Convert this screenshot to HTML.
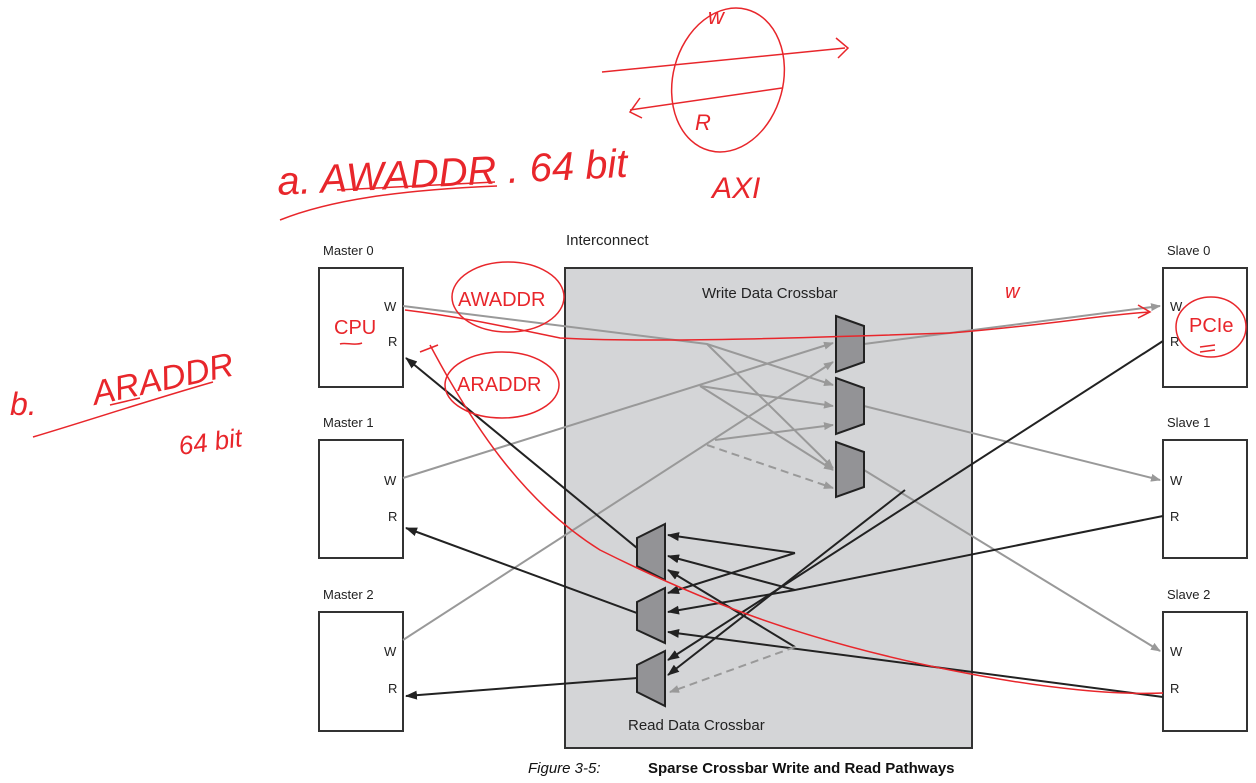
<!DOCTYPE html>
<html><head><meta charset="utf-8"><style>
html,body{margin:0;padding:0;background:#fff;}
svg{display:block;}
</style></head><body>
<svg width="1256" height="783" viewBox="0 0 1256 783" xmlns="http://www.w3.org/2000/svg" font-family="Liberation Sans, sans-serif">
<defs>
<marker id="ag" markerWidth="10" markerHeight="8" refX="9" refY="4" orient="auto" markerUnits="userSpaceOnUse"><path d="M0,0 L10,4 L0,8 Z" fill="#999"/></marker>
<marker id="ab" markerWidth="12" markerHeight="9" refX="11" refY="4.5" orient="auto" markerUnits="userSpaceOnUse"><path d="M0,0 L12,4.5 L0,9 Z" fill="#222"/></marker>
</defs>
<!-- interconnect -->
<rect x="565" y="268" width="407" height="480" fill="#d4d5d7" stroke="#333" stroke-width="2"/>
<text x="566" y="245" font-size="15" fill="#222">Interconnect</text>
<text x="702" y="298" font-size="15" fill="#222">Write Data Crossbar</text>
<text x="628" y="730" font-size="15" fill="#222">Read Data Crossbar</text>
<!-- masters/slaves -->
<g fill="#fff" stroke="#333" stroke-width="2">
<rect x="319" y="268" width="84" height="119"/><rect x="319" y="440" width="84" height="118"/><rect x="319" y="612" width="84" height="119"/>
<rect x="1163" y="268" width="84" height="119"/><rect x="1163" y="440" width="84" height="118"/><rect x="1163" y="612" width="84" height="119"/>
</g>
<g font-size="13" fill="#222">
<text x="323" y="255">Master 0</text><text x="323" y="427">Master 1</text><text x="323" y="599">Master 2</text>
<text x="1167" y="255">Slave 0</text><text x="1167" y="427">Slave 1</text><text x="1167" y="599">Slave 2</text>
<text x="384" y="311">W</text><text x="388" y="346">R</text>
<text x="384" y="485">W</text><text x="388" y="521">R</text>
<text x="384" y="656">W</text><text x="388" y="693">R</text>
<text x="1170" y="311">W</text><text x="1170" y="346">R</text>
<text x="1170" y="485">W</text><text x="1170" y="521">R</text>
<text x="1170" y="656">W</text><text x="1170" y="693">R</text>
</g>
<!-- write lines -->
<g stroke="#999" stroke-width="2" fill="none">
<path d="M403,306 L707,344 L833,385" marker-end="url(#ag)"/>
<path d="M707,344 L833,468" marker-end="url(#ag)"/>
<path d="M403,478 L833,343" marker-end="url(#ag)"/>
<path d="M700,386 L833,406" marker-end="url(#ag)"/>
<path d="M700,386 L833,470" marker-end="url(#ag)"/>
<path d="M403,640 L833,362" marker-end="url(#ag)"/>
<path d="M715,440 L833,425" marker-end="url(#ag)"/>
<path d="M707,445 L833,488" stroke-dasharray="8,5" marker-end="url(#ag)"/>
<path d="M864,344 L1160,306" marker-end="url(#ag)"/>
<path d="M864,406 L1160,480" marker-end="url(#ag)"/>
<path d="M864,470 L1160,651" marker-end="url(#ag)"/>
</g>
<!-- read lines -->
<g stroke="#222" stroke-width="2" fill="none">
<path d="M1163,341 L668,660" marker-end="url(#ab)"/>
<path d="M905,490 L668,675" marker-end="url(#ab)"/>
<path d="M795,553 L668,535" marker-end="url(#ab)"/>
<path d="M795,553 L668,593" marker-end="url(#ab)"/>
<path d="M1163,516 L795,590 L668,556" marker-end="url(#ab)"/>
<path d="M795,590 L668,612" marker-end="url(#ab)"/>
<path d="M1163,697 L668,632" marker-end="url(#ab)"/>
<path d="M795,647 L668,570" marker-end="url(#ab)"/>
<path d="M637,548 L406,358" marker-end="url(#ab)"/>
<path d="M637,613 L406,528" marker-end="url(#ab)"/>
<path d="M637,678 L406,696" marker-end="url(#ab)"/>
</g>
<path d="M795,647 L670,692" stroke="#999" stroke-width="2" stroke-dasharray="8,5" fill="none" marker-end="url(#ag)"/>
<!-- muxes -->
<g fill="#939396" stroke="#222" stroke-width="2">
<path d="M836,316 L864,326 L864,362 L836,372 Z"/>
<path d="M836,378 L864,388 L864,424 L836,434 Z"/>
<path d="M836,442 L864,452 L864,487 L836,497 Z"/>
<path d="M665,524 L637,538 L637,566 L665,580 Z"/>
<path d="M665,588 L637,602 L637,630 L665,643 Z"/>
<path d="M665,651 L637,665 L637,692 L665,706 Z"/>
</g>
<!-- red annotations -->
<g stroke="#e8262b" stroke-width="1.5" fill="none">
<ellipse cx="728" cy="80" rx="55" ry="73" transform="rotate(15 728 80)"/>
<path d="M602,72 L845,48 M836,38 L848,48 L838,58"/>
<path d="M630,110 L782,88 M640,98 L630,112 L642,118"/>
<path d="M337,190 L495,182 M280,220 C330,200 400,190 497,186"/>
<path d="M33,437 C90,420 150,400 213,382 M110,405 L140,398"/>
<ellipse cx="508" cy="297" rx="56" ry="35"/>
<ellipse cx="502" cy="385" rx="57" ry="33"/>
<ellipse cx="1211" cy="327" rx="35" ry="30"/>
<path d="M405,310 C470,318 520,330 560,338 C650,343 800,338 950,333 C1050,325 1100,315 1150,312 M1138,305 L1150,312 L1138,318"/>
<path d="M430,345 C470,420 520,500 600,550 C700,600 800,640 950,670 C1050,690 1120,695 1163,693"/>
<path d="M420,352 L438,345"/>
<path d="M340,344 C345,342 355,346 362,343"/>
<path d="M1200,347 L1215,345 M1200,352 L1215,350"/>
</g>
<g fill="#e8262b" font-family="Liberation Sans, sans-serif">
<text x="278" y="195" font-size="40" font-style="italic" transform="rotate(-3 278 195)">a.  AWADDR . 64 bit</text>
<text x="712" y="198" font-size="30" font-style="italic">AXI</text>
<text x="708" y="24" font-size="22" font-style="italic">w</text>
<text x="695" y="130" font-size="22" font-style="italic">R</text>
<text x="10" y="415" font-size="32" font-style="italic">b.</text>
<text x="95" y="405" font-size="34" font-style="italic" transform="rotate(-12 95 405)">ARADDR</text>
<text x="180" y="455" font-size="26" font-style="italic" transform="rotate(-8 180 455)">64 bit</text>
<text x="1005" y="298" font-size="20" font-style="italic">w</text>
<text x="458" y="306" font-size="20">AWADDR</text>
<text x="457" y="391" font-size="20">ARADDR</text>
<text x="334" y="334" font-size="20">CPU</text>
<text x="1189" y="332" font-size="20">PCIe</text>
</g>
<!-- caption -->
<text x="528" y="773" font-size="15" font-style="italic" fill="#111">Figure 3-5:</text>
<text x="648" y="773" font-size="15" font-weight="bold" fill="#111">Sparse Crossbar Write and Read Pathways</text>
</svg>
</body></html>
